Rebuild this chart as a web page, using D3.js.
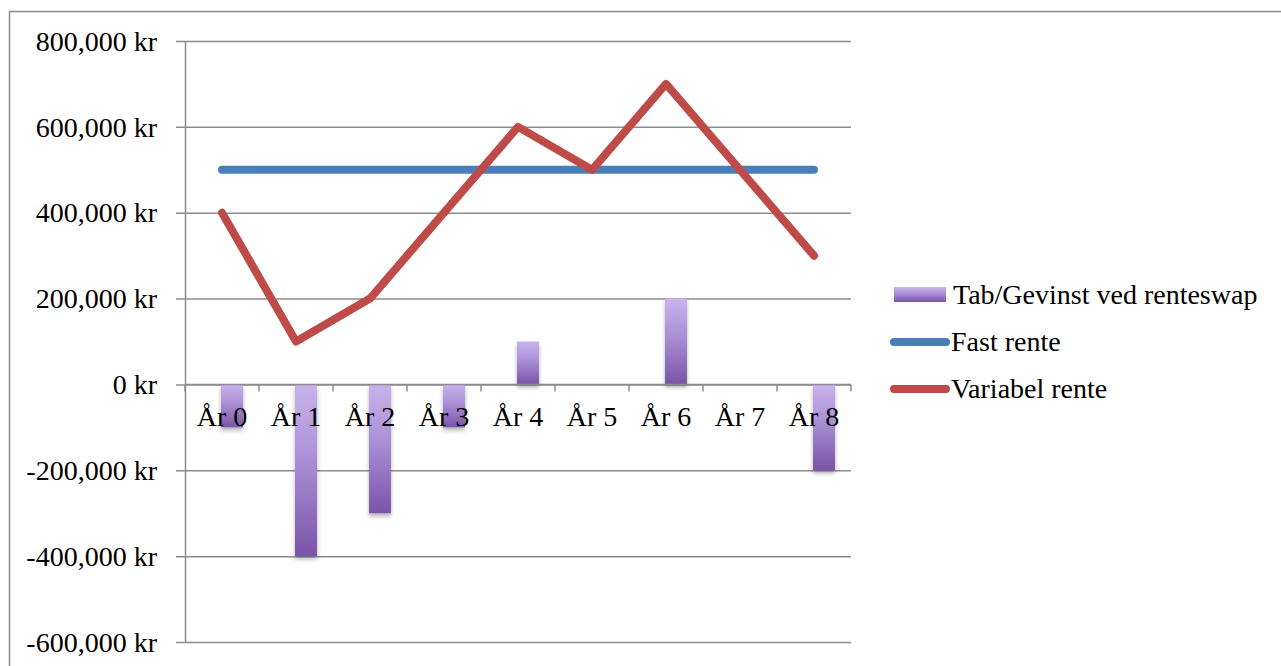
<!DOCTYPE html>
<html>
<head>
<meta charset="utf-8">
<script src="https://cdn.jsdelivr.net/npm/d3@7"></script>
<style>
	body { margin: 0; background: #fff; }
	svg text { font-family: "Liberation Serif", "DejaVu Serif", serif; fill: #000; }
</style>
</head>
<body>
<div id="chart"></div>
<script>
( function () {

	// Data.
	var years = [ 'År 0', 'År 1', 'År 2', 'År 3', 'År 4', 'År 5', 'År 6', 'År 7', 'År 8' ];
	var swap = [ -100000, -400000, -300000, -100000, 100000, 0, 200000, 0, -200000 ];
	var fast = [ 500000, 500000, 500000, 500000, 500000, 500000, 500000, 500000, 500000 ];
	var variabel = [ 400000, 100000, 200000, 400000, 600000, 500000, 700000, 500000, 300000 ];
	var yTicks = [ -600000, -400000, -200000, 0, 200000, 400000, 600000, 800000 ];
	var legendLabels = [ 'Tab/Gevinst ved renteswap', 'Fast rente', 'Variabel rente' ];

	var width = 1281, height = 666;
	var plot = { left: 185, right: 851, top: 41, bottom: 642 };

	var svg = d3.select( '#chart' ).append( 'svg' )
		.attr( 'width', width )
		.attr( 'height', height );

	var defs = svg.append( 'defs' );

	var grad = defs.append( 'linearGradient' )
		.attr( 'id', 'barGrad' )
		.attr( 'x1', 0 ).attr( 'y1', 0 ).attr( 'x2', 0 ).attr( 'y2', 1 );
	grad.append( 'stop' ).attr( 'offset', '0%' ).attr( 'stop-color', '#c9b3ec' );
	grad.append( 'stop' ).attr( 'offset', '40%' ).attr( 'stop-color', '#ad93d8' );
	grad.append( 'stop' ).attr( 'offset', '100%' ).attr( 'stop-color', '#7a54a8' );

	var shadow = defs.append( 'filter' ).attr( 'id', 'shadow' )
		.attr( 'x', '-30%' ).attr( 'y', '-10%' ).attr( 'width', '160%' ).attr( 'height', '130%' );
	shadow.append( 'feDropShadow' )
		.attr( 'dx', 0 ).attr( 'dy', 3 ).attr( 'stdDeviation', 2 )
		.attr( 'flood-color', '#000' ).attr( 'flood-opacity', 0.3 );

	// Outer frame.
	svg.append( 'rect' )
		.attr( 'x', 9.5 ).attr( 'y', 11.5 )
		.attr( 'width', 1300 ).attr( 'height', 700 )
		.attr( 'fill', 'none' )
		.attr( 'stroke', '#8c8c8c' )
		.attr( 'stroke-width', 1.5 );

	var x = d3.scaleBand().domain( years ).range( [ plot.left, plot.right ] );
	var y = d3.scaleLinear().domain( [ -600000, 800000 ] ).range( [ plot.bottom, plot.top ] );

	var fmt = function ( v ) { return d3.format( ',' )( v ).replace( '−', '-' ) + ' kr'; };

	// Gridlines + y axis.
	var yAxis = d3.axisLeft( y )
		.tickValues( yTicks )
		.tickSize( -( plot.right - plot.left ) )
		.tickSizeOuter( 0 )
		.tickPadding( 28 )
		.tickFormat( fmt );

	var gy = svg.append( 'g' )
		.attr( 'transform', 'translate( ' + plot.left + ', 0 )' )
		.call( yAxis );
	gy.select( '.domain' ).attr( 'stroke', '#8c8c8c' ).attr( 'stroke-width', 1.5 );
	gy.selectAll( '.tick line' )
		.attr( 'x1', -9 )
		.attr( 'stroke', '#8c8c8c' ).attr( 'stroke-width', 1.5 );
	gy.selectAll( '.tick text' )
		.attr( 'font-size', 28 )
		.attr( 'dy', '0.33em' );

	// Bars.
	svg.append( 'g' ).selectAll( 'rect' )
		.data( swap )
		.enter()
		.append( 'rect' )
		.attr( 'x', function ( d, i ) { return x( years[i] ) + x.bandwidth() / 2 - 1; } )
		.attr( 'y', function ( d ) { return y( Math.max( 0, d ) ); } )
		.attr( 'width', 22 )
		.attr( 'height', function ( d ) { return Math.abs( y( d ) - y( 0 ) ); } )
		.attr( 'fill', 'url(#barGrad)' )
		.attr( 'filter', function ( d ) { return d === 0 ? null : 'url(#shadow)'; } );

	// X axis at zero.
	var xAxis = d3.axisBottom( x ).tickSize( 0 ).tickPadding( 22 );
	var gx = svg.append( 'g' )
		.attr( 'transform', 'translate( 0, ' + y( 0 ) + ' )' )
		.call( xAxis );
	gx.select( '.domain' ).remove();
	gx.selectAll( '.tick text' ).attr( 'font-size', 28 );

	var gxLine = svg.append( 'g' ).attr( 'transform', 'translate( 0, ' + y( 0 ) + ' )' );
	gxLine.append( 'line' )
		.attr( 'x1', plot.left ).attr( 'x2', plot.right )
		.attr( 'stroke', '#8c8c8c' ).attr( 'stroke-width', 1.5 );
	gxLine.selectAll( '.xt' )
		.data( years.concat( [ null ] ) )
		.enter()
		.append( 'line' )
		.attr( 'x1', function ( d, i ) { return plot.left + i * x.step(); } )
		.attr( 'x2', function ( d, i ) { return plot.left + i * x.step(); } )
		.attr( 'y1', 0 ).attr( 'y2', 7 )
		.attr( 'stroke', '#8c8c8c' ).attr( 'stroke-width', 1.5 );

	// Lines.
	var line = d3.line()
		.x( function ( d, i ) { return x( years[i] ) + x.bandwidth() / 2; } )
		.y( function ( d ) { return y( d ); } );

	svg.append( 'path' )
		.datum( fast )
		.attr( 'd', line )
		.attr( 'fill', 'none' )
		.attr( 'stroke', '#4a7ebb' )
		.attr( 'stroke-width', 8 )
		.attr( 'stroke-linecap', 'round' );

	svg.append( 'path' )
		.datum( variabel )
		.attr( 'd', line )
		.attr( 'fill', 'none' )
		.attr( 'stroke', '#be4b48' )
		.attr( 'stroke-width', 8 )
		.attr( 'stroke-linecap', 'round' )
		.attr( 'stroke-linejoin', 'round' );

	// Legend.
	var legend = svg.append( 'g' ).attr( 'transform', 'translate( 890, 0 )' );
	var legendY = [ 295, 342, 389 ];

	legend.append( 'rect' )
		.attr( 'x', 4 ).attr( 'y', legendY[0] - 8 )
		.attr( 'width', 52 ).attr( 'height', 15 )
		.attr( 'fill', 'url(#barGrad)' );

	legend.append( 'line' )
		.attr( 'x1', 4 ).attr( 'x2', 56 )
		.attr( 'y1', legendY[1] ).attr( 'y2', legendY[1] )
		.attr( 'stroke', '#4a7ebb' ).attr( 'stroke-width', 8 ).attr( 'stroke-linecap', 'round' );

	legend.append( 'line' )
		.attr( 'x1', 4 ).attr( 'x2', 56 )
		.attr( 'y1', legendY[2] ).attr( 'y2', legendY[2] )
		.attr( 'stroke', '#be4b48' ).attr( 'stroke-width', 8 ).attr( 'stroke-linecap', 'round' );

	legend.selectAll( 'text' )
		.data( legendLabels )
		.enter()
		.append( 'text' )
		.attr( 'x', function ( d, i ) { return i === 0 ? 63 : 61; } )
		.attr( 'y', function ( d, i ) { return legendY[i]; } )
		.attr( 'dy', '0.33em' )
		.attr( 'font-size', 28 )
		.text( function ( d ) { return d; } );

} )();
</script>
</body>
</html>
